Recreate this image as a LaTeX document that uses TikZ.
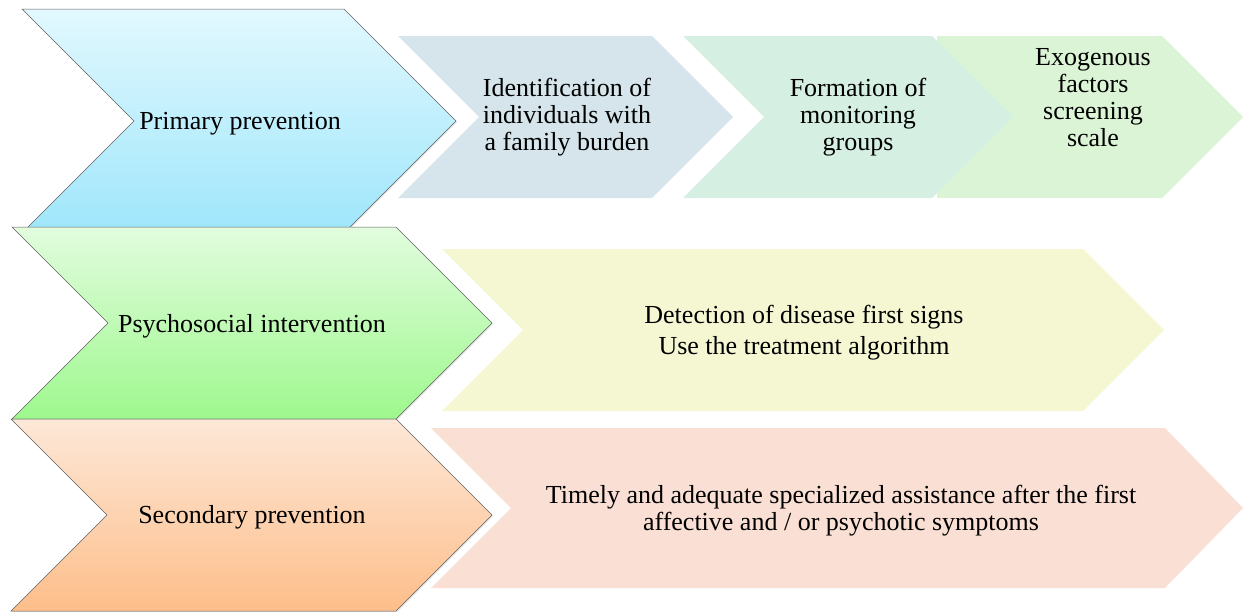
\documentclass[tikz,border=0pt]{standalone}
\usepackage{fontspec}
\setmainfont{Liberation Serif}
\usetikzlibrary{calc,shadows}
\definecolor{cprimtop}{RGB}{226,248,254}
\definecolor{cprimbot}{RGB}{158,230,251}
\definecolor{cpsytop}{RGB}{226,252,222}
\definecolor{cpsybot}{RGB}{158,248,142}
\definecolor{csectop}{RGB}{253,232,216}
\definecolor{csecbot}{RGB}{253,190,138}
\definecolor{cident}{RGB}{213,229,235}
\definecolor{cform}{RGB}{213,239,227}
\definecolor{cexo}{RGB}{220,244,214}
\definecolor{cdetect}{RGB}{245,247,211}
\definecolor{ctimely}{RGB}{250,223,212}

\begin{document}
\begin{tikzpicture}[x=1pt,y=-1pt,font=\fontsize{26}{27}\selectfont,
   chev/.style={draw=gray!75!black, line width=0.5pt, shading angle=0,
     drop shadow={opacity=0.2, shadow xshift=1.2pt, shadow yshift=-1.2pt}},
   step box/.style={draw=none},
   label/.style={align=center, inner sep=0pt}]
  \useasboundingbox (0,0) rectangle (1243,611);
  % left column: gradient chevrons
  \shade[chev, top color=cprimtop, bottom color=cprimbot]
    (22,9) -- (344,9) -- (456,121) -- (344,233) -- (22,233) -- (134,121) -- cycle;
  \shade[chev, top color=cpsytop, bottom color=cpsybot]
    (12,227) -- (396,227) -- (492,323) -- (396,419) -- (12,419) -- (108,323) -- cycle;
  \shade[chev, top color=csectop, bottom color=csecbot]
    (11,419) -- (396,419) -- (492,515) -- (396,611) -- (11,611) -- (107,515) -- cycle;
  % right side: flat steps
  \fill[step box, cident] (398,36) -- (652,36) -- (733,117) -- (652,198) -- (398,198) -- (479,117) -- cycle;
  \fill[step box, cexo] (937,36) -- (1162,36) -- (1243,117) -- (1162,198) -- (937,198) -- cycle;
  \fill[step box, cform] (683,36) -- (932,36) -- (1013,117) -- (932,198) -- (683,198) -- (764,117) -- cycle;
  \fill[step box, cdetect] (442,249) -- (1083,249) -- (1164,330) -- (1083,411) -- (442,411) -- (523,330) -- cycle;
  \fill[step box, ctimely] (431,428) -- (1165,428) -- (1243,508) -- (1165,588) -- (431,588) -- (511,508) -- cycle;
  % texts
  \node[label] (prim) at (240,124) {Primary prevention};
  \node[label] (psy) at (252,326) {Psychosocial intervention};
  \node[label] (sec) at (252,517) {Secondary prevention};
  \node[label] (ident) at (567,117) {Identification of\\individuals with\\a family burden};
  \node[label] (form) at (858,117) {Formation of\\monitoring\\groups};
  \node[label] (exo) at (1093,98) {Exogenous\\factors\\screening\\scale};
  \node[label] (detect) at (804,333) {Detection of disease first signs\\[4pt]Use the treatment algorithm};
  \node[label] (timely) at (841,511) {Timely and adequate specialized assistance after the first\\affective and / or psychotic symptoms};
\end{tikzpicture}
\end{document}
